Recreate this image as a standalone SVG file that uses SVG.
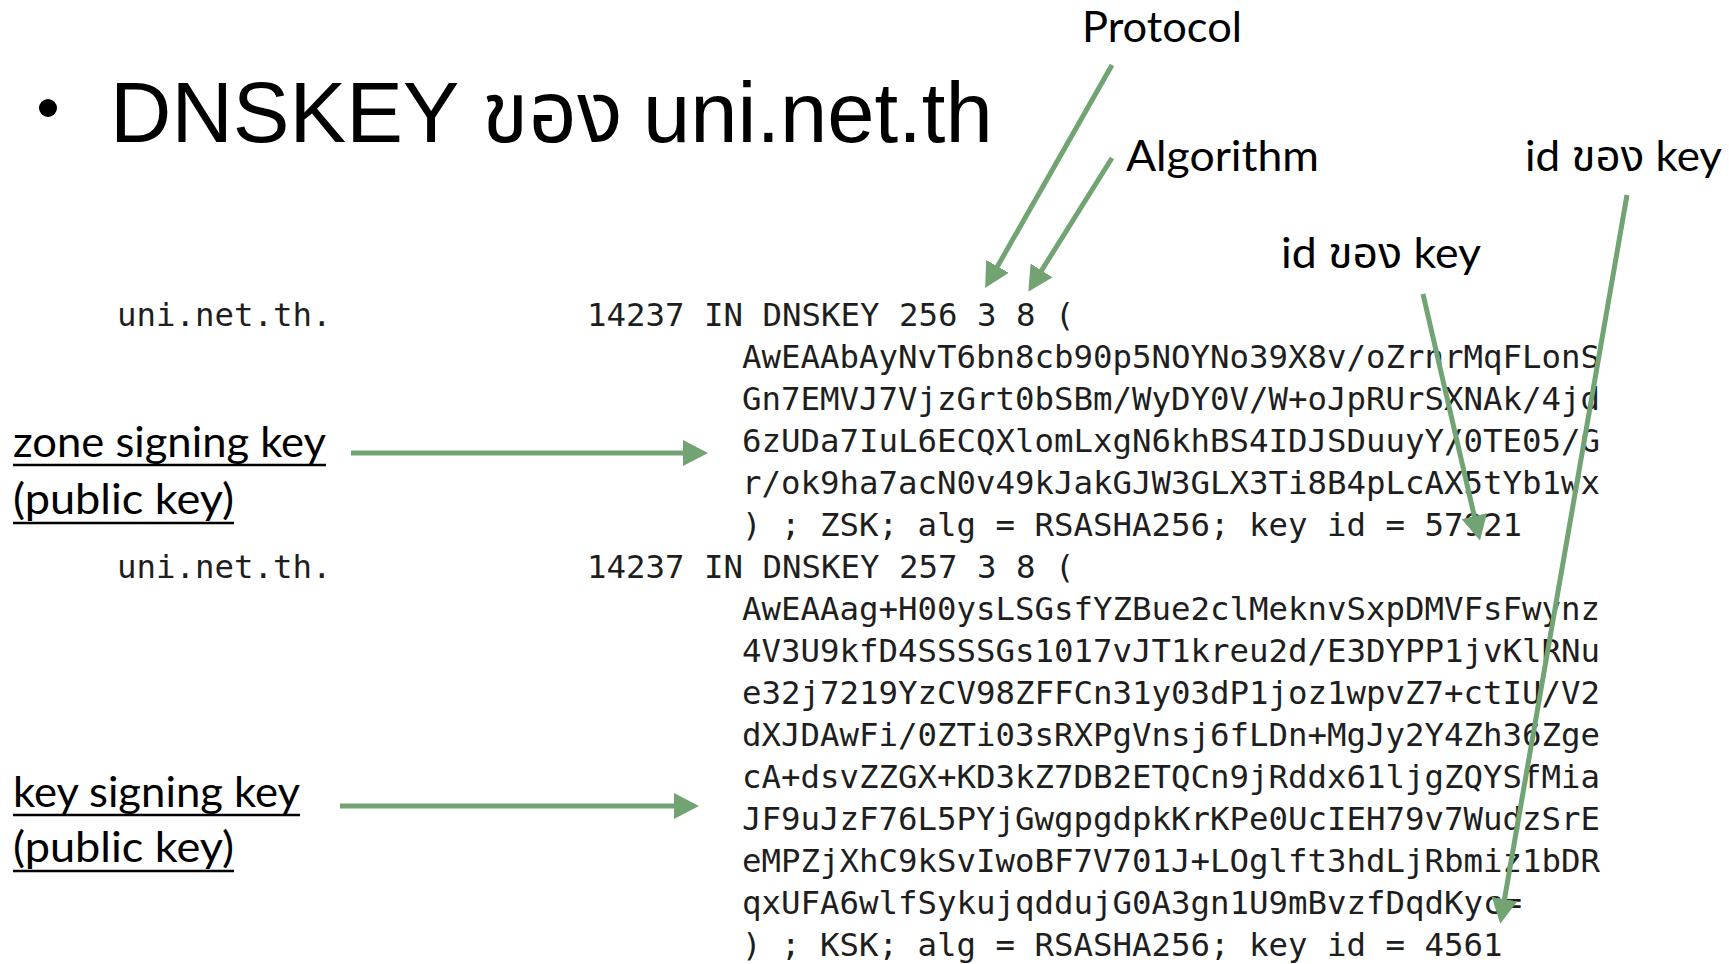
<svg xmlns="http://www.w3.org/2000/svg" width="1729" height="964" viewBox="0 0 1729 964">
  <style>
    .title { font-family: "Liberation Sans", Arial, "Noto Sans Thai", "Noto Sans", "DejaVu Sans", sans-serif; font-size: 85px; fill: #000; }
    .lbl { font-family: Lato, "Noto Sans Thai", "Noto Sans", "DejaVu Sans", sans-serif; font-size: 43px; fill: #000; }
    .code { font-family: "DejaVu Sans Mono", "Liberation Mono", monospace; font-size: 32.4px; fill: #1e1e1e; }
    .ul { stroke: #000; stroke-width: 2.5; }
    .conn { stroke: #71A373; stroke-width: 5; fill: none; marker-end: url(#head); }
  </style>
  <defs>
    <marker id="head" markerUnits="userSpaceOnUse" viewBox="0 -13 25 26" refX="3" refY="0" markerWidth="25" markerHeight="26" orient="auto">
      <path d="M0,-13 L25,0 L0,13 z" fill="#71A373"/>
    </marker>
  </defs>
  <rect width="1729" height="964" fill="#fff"/>

  <g id="title">
    <circle cx="48" cy="108" r="9" fill="#000"/>
    <text class="title" y="142"><tspan x="110">DNSKEY</tspan><tspan x="482">ของ</tspan><tspan x="643">uni.net.th</tspan></text>
  </g>

  <g id="label-protocol">
    <text class="lbl" x="1082" y="42" textLength="160" lengthAdjust="spacingAndGlyphs">Protocol</text>
  </g>
  <g id="label-algorithm">
    <text class="lbl" x="1126" y="171" textLength="193" lengthAdjust="spacingAndGlyphs">Algorithm</text>
  </g>
  <g id="label-keyid-ksk">
    <text class="lbl" x="1525" y="171" textLength="197" lengthAdjust="spacingAndGlyphs">id ของ key</text>
  </g>
  <g id="label-keyid-zsk">
    <text class="lbl" x="1281" y="268" textLength="200" lengthAdjust="spacingAndGlyphs">id ของ key</text>
  </g>
  <g id="label-zsk">
    <text class="lbl" x="13" y="457" textLength="313" lengthAdjust="spacingAndGlyphs">zone signing key</text>
    <line class="ul" x1="13" y1="465" x2="326" y2="465"/>
    <text class="lbl" x="13" y="514" textLength="221" lengthAdjust="spacingAndGlyphs">(public key)</text>
    <line class="ul" x1="13" y1="523" x2="234" y2="523"/>
  </g>
  <g id="label-ksk">
    <text class="lbl" x="13" y="807" textLength="287" lengthAdjust="spacingAndGlyphs">key signing key</text>
    <line class="ul" x1="13" y1="815" x2="300" y2="815"/>
    <text class="lbl" x="13" y="862" textLength="221" lengthAdjust="spacingAndGlyphs">(public key)</text>
    <line class="ul" x1="13" y1="871" x2="234" y2="871"/>
  </g>

  <g id="record-zsk">
    <text class="code" x="117" y="326">uni.net.th.</text>
    <text class="code" x="587" y="326">14237 IN DNSKEY 256 3 8 (</text>
    <text class="code" x="742" y="368">AwEAAbAyNvT6bn8cb90p5NOYNo39X8v/oZrnrMqFLonS</text>
    <text class="code" x="742" y="410">Gn7EMVJ7VjzGrt0bSBm/WyDY0V/W+oJpRUrSXNAk/4jd</text>
    <text class="code" x="742" y="452">6zUDa7IuL6ECQXlomLxgN6khBS4IDJSDuuyY/0TE05/G</text>
    <text class="code" x="742" y="494">r/ok9ha7acN0v49kJakGJW3GLX3Ti8B4pLcAX5tYb1wx</text>
    <text class="code" x="742" y="536">) ; ZSK; alg = RSASHA256; key id = 57921</text>
  </g>
  <g id="record-ksk">
    <text class="code" x="117" y="578">uni.net.th.</text>
    <text class="code" x="587" y="578">14237 IN DNSKEY 257 3 8 (</text>
    <text class="code" x="742" y="620">AwEAAag+H00ysLSGsfYZBue2clMeknvSxpDMVFsFwynz</text>
    <text class="code" x="742" y="662">4V3U9kfD4SSSSGs1017vJT1kreu2d/E3DYPP1jvKlRNu</text>
    <text class="code" x="742" y="704">e32j7219YzCV98ZFFCn31y03dP1joz1wpvZ7+ctIU/V2</text>
    <text class="code" x="742" y="746">dXJDAwFi/0ZTi03sRXPgVnsj6fLDn+MgJy2Y4Zh36Zge</text>
    <text class="code" x="742" y="788">cA+dsvZZGX+KD3kZ7DB2ETQCn9jRddx61ljgZQYSfMia</text>
    <text class="code" x="742" y="830">JF9uJzF76L5PYjGwgpgdpkKrKPe0UcIEH79v7WudzSrE</text>
    <text class="code" x="742" y="872">eMPZjXhC9kSvIwoBF7V701J+LOglft3hdLjRbmiz1bDR</text>
    <text class="code" x="742" y="914">qxUFA6wlfSykujqddujG0A3gn1U9mBvzfDqdKyc=</text>
    <text class="code" x="742" y="956">) ; KSK; alg = RSASHA256; key id = 4561</text>
  </g>

  <g id="connectors">
    <line class="conn" x1="1112" y1="65" x2="996" y2="269"/>
    <line class="conn" x1="1112" y1="158" x2="1040" y2="273"/>
    <line class="conn" x1="1423" y1="294" x2="1475" y2="519"/>
    <line class="conn" x1="1627" y1="195" x2="1504" y2="902"/>
    <line class="conn" x1="351" y1="453" x2="686" y2="453"/>
    <line class="conn" x1="340" y1="806" x2="677" y2="806"/>
  </g>
</svg>
